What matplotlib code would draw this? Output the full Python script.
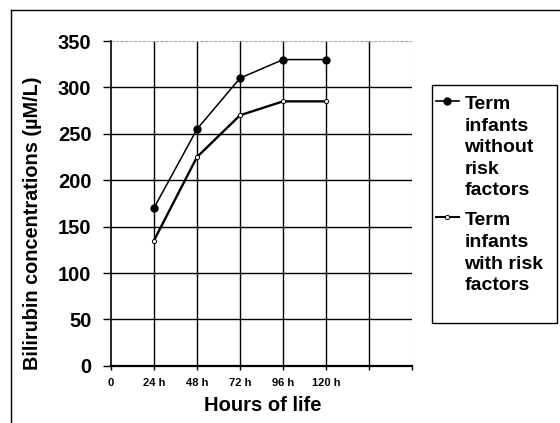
import numpy as np
import matplotlib
matplotlib.use("Agg")
import matplotlib.pyplot as plt
from matplotlib.lines import Line2D
from matplotlib.patches import Rectangle
from matplotlib.legend_handler import HandlerLine2D

plt.rcParams['font.family'] = ['Liberation Sans', 'DejaVu Sans']
plt.rcParams['font.weight'] = 'bold'

hours = [24, 48, 72, 96, 120]
no_risk = [170, 255, 310, 330, 330]
with_risk = [135, 225, 270, 285, 285]
xticks = [0, 24, 48, 72, 96, 120, 144, 168]
xlabels = ['0', '24 h', '48 h', '72 h', '96 h', '120 h', '', '']
yticks = [0, 50, 100, 150, 200, 250, 300, 350]


class TopHandler(HandlerLine2D):
    # put the legend line next to the first text line
    def __init__(self, shift, **kw):
        super().__init__(**kw)
        self.shift = shift

    def create_artists(self, legend, orig_handle, xdescent, ydescent,
                       width, height, fontsize, trans):
        return super().create_artists(legend, orig_handle, xdescent,
                                      ydescent - self.shift, width, height,
                                      fontsize, trans)


fig = plt.figure(figsize=(5.6, 4.23), dpi=100)
ax = fig.add_axes([0.198, 0.135, 0.538, 0.768])

ax.set_xlim(0, 168)
ax.set_ylim(0, 350)
ax.set_xticks(xticks)
ax.set_xticklabels(xlabels, fontsize=8, fontweight='bold')
ax.set_yticks(yticks)
ax.set_yticklabels([str(v) for v in yticks], fontsize=14.5, fontweight='bold')
ax.tick_params(axis='y', length=6, width=1, pad=8)
ax.tick_params(axis='x', length=3, width=1, pad=6)

# grid (black), with faint outer top/right lines
for x in xticks[1:-1]:
    ax.axvline(x, color='black', lw=1, zorder=1)
for y in yticks[1:-1]:
    ax.axhline(y, color='black', lw=1, zorder=1)
ax.axhline(350, color='#aaaaaa', lw=0.8, ls=(0, (3, 1)), zorder=1)
ax.axvline(168, color='#aaaaaa', lw=0.8, ls=(0, (3, 1)), zorder=1)
for s in ['top', 'right']:
    ax.spines[s].set_visible(False)
ax.spines['left'].set_linewidth(1.2)
ax.spines['bottom'].set_linewidth(1.6)

ax.plot(hours, no_risk, color='black', lw=1.1, marker='o', ms=5,
        mfc='black', mec='black', zorder=3)
ax.plot(hours, with_risk, color='black', lw=1.7, marker='o', ms=3,
        mfc='white', mec='black', mew=0.7, zorder=3)

ax.set_xlabel('Hours of life', fontsize=14.5, fontweight='bold')
ax.xaxis.set_label_coords(0.503, -0.093)
ax.set_ylabel('Bilirubin concentrations (\u00b5M/L)', fontsize=14.3,
              fontweight='bold')
ax.yaxis.set_label_coords(-0.227, 0.44)

h1 = Line2D([], [], color='black', lw=1.2, marker='o', ms=5, mfc='black')
h2 = Line2D([], [], color='black', lw=1.5, marker='o', ms=3, mfc='white', mew=0.7)
leg = fig.legend([h1, h2],
                 ['Term\ninfants\nwithout\nrisk\nfactors',
                  'Term\ninfants\nwith risk\nfactors'],
                 handler_map={h1: TopHandler(66.5), h2: TopHandler(51.5)},
                 loc='upper left', bbox_to_anchor=(0.779, 0.773),
                 borderaxespad=0, fontsize=14, frameon=False,
                 handlelength=1.15, handletextpad=0.3,
                 borderpad=0, labelspacing=0.68)
for t in leg.get_texts():
    t.set_fontweight('bold')
    t.set_linespacing(1.35)

# legend box
fig.add_artist(Rectangle((0.771, 0.236), 0.223, 0.563, fill=False,
                         edgecolor='black', lw=1, transform=fig.transFigure))

# outer frame lines (top and left)
fig.add_artist(Line2D([0.02, 1.0], [0.976, 0.976], color='black', lw=1,
                      transform=fig.transFigure))
fig.add_artist(Line2D([0.02, 0.02], [0.0, 0.976], color='black', lw=1,
                      transform=fig.transFigure))

fig.savefig('out.png', dpi=100)
